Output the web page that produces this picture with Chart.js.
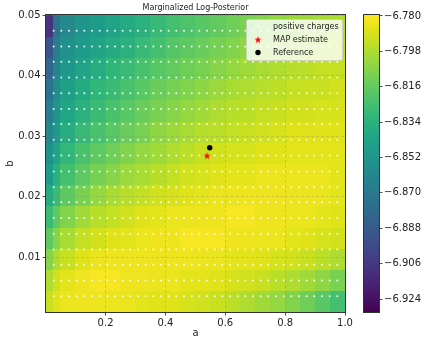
<!DOCTYPE html>
<html>
<head>
<meta charset="utf-8">
<script src="https://cdn.jsdelivr.net/npm/chart.js@4.4.1/dist/chart.umd.min.js"></script>
<style>
  html, body { margin: 0; padding: 0; background: #fff; }
  #wrap { position: relative; width: 423px; height: 344px; }
  #main { position: absolute; left: 0; top: 0; }
  #cbar { position: absolute; left: 346px; top: 0; }
</style>
</head>
<body>
<div id="wrap">
  <canvas id="main" width="423" height="344"></canvas>
  <canvas id="cbar" width="77" height="344"></canvas>
</div>
<script>
// axes
const aRange = [0.001, 1.0];
const bRange = [0.001, 0.05];
const aTicks = [0.2, 0.4, 0.6, 0.8, 1.0];
const bTicks = [0.01, 0.02, 0.03, 0.04, 0.05];

// colour scale of the colorbar
const zRange = [-6.9306, -6.7795];
const zTicks = [-6.924, -6.906, -6.888, -6.870, -6.852, -6.834, -6.816, -6.798, -6.780];

// marginalized log-posterior grid
// cell edges along a and b, rows go from low b to high b
const aEdges = [0.001, 0.025, 0.05, 0.1, 0.15, 0.2, 0.25, 0.3, 0.35, 0.4, 0.45, 0.5,
                0.55, 0.6, 0.65, 0.7, 0.75, 0.8, 0.85, 0.9, 0.95, 1.0];
const bEdges = [0.001, 0.0045, 0.008, 0.0115, 0.015, 0.0185, 0.022, 0.0255,
                0.029, 0.0325, 0.036, 0.0395, 0.043, 0.0465, 0.05];
const logPost = [
  [-6.792,-6.787,-6.784,-6.783,-6.783,-6.784,-6.784,-6.786,-6.787,-6.787,-6.789,-6.790,-6.792,-6.795,-6.798,-6.801,-6.804,-6.808,-6.813,-6.819,-6.825],
  [-6.798,-6.790,-6.786,-6.783,-6.781,-6.781,-6.783,-6.783,-6.784,-6.784,-6.786,-6.786,-6.787,-6.789,-6.790,-6.792,-6.795,-6.798,-6.801,-6.805,-6.810],
  [-6.807,-6.798,-6.792,-6.787,-6.784,-6.783,-6.783,-6.783,-6.783,-6.783,-6.783,-6.784,-6.784,-6.786,-6.786,-6.787,-6.789,-6.790,-6.792,-6.795,-6.798],
  [-6.817,-6.807,-6.799,-6.793,-6.790,-6.787,-6.786,-6.784,-6.783,-6.783,-6.781,-6.781,-6.781,-6.783,-6.783,-6.784,-6.784,-6.786,-6.787,-6.789,-6.790],
  [-6.828,-6.817,-6.808,-6.801,-6.796,-6.793,-6.790,-6.787,-6.786,-6.784,-6.784,-6.783,-6.783,-6.781,-6.781,-6.783,-6.783,-6.784,-6.784,-6.786,-6.787],
  [-6.838,-6.828,-6.817,-6.810,-6.804,-6.799,-6.796,-6.793,-6.790,-6.789,-6.787,-6.786,-6.784,-6.784,-6.783,-6.783,-6.783,-6.784,-6.784,-6.784,-6.786],
  [-6.848,-6.835,-6.825,-6.817,-6.811,-6.807,-6.802,-6.799,-6.796,-6.793,-6.790,-6.789,-6.787,-6.786,-6.786,-6.784,-6.784,-6.784,-6.784,-6.784,-6.786],
  [-6.855,-6.843,-6.831,-6.823,-6.817,-6.813,-6.808,-6.804,-6.801,-6.798,-6.795,-6.792,-6.790,-6.789,-6.789,-6.787,-6.787,-6.786,-6.786,-6.786,-6.786],
  [-6.861,-6.849,-6.837,-6.829,-6.823,-6.819,-6.814,-6.810,-6.805,-6.802,-6.799,-6.796,-6.795,-6.793,-6.792,-6.790,-6.789,-6.787,-6.787,-6.787,-6.787],
  [-6.867,-6.854,-6.841,-6.834,-6.828,-6.823,-6.819,-6.814,-6.810,-6.807,-6.804,-6.801,-6.798,-6.796,-6.795,-6.793,-6.792,-6.790,-6.790,-6.789,-6.789],
  [-6.873,-6.858,-6.846,-6.838,-6.832,-6.828,-6.823,-6.819,-6.814,-6.811,-6.808,-6.805,-6.802,-6.799,-6.798,-6.796,-6.795,-6.793,-6.792,-6.792,-6.790],
  [-6.881,-6.863,-6.851,-6.843,-6.837,-6.832,-6.828,-6.823,-6.819,-6.816,-6.813,-6.810,-6.807,-6.804,-6.801,-6.799,-6.798,-6.796,-6.795,-6.793,-6.793],
  [-6.891,-6.867,-6.855,-6.848,-6.843,-6.838,-6.834,-6.829,-6.825,-6.820,-6.817,-6.814,-6.811,-6.808,-6.805,-6.802,-6.801,-6.799,-6.798,-6.796,-6.795],
  [-6.908,-6.873,-6.860,-6.852,-6.848,-6.843,-6.838,-6.834,-6.829,-6.825,-6.822,-6.819,-6.816,-6.813,-6.810,-6.807,-6.804,-6.802,-6.801,-6.799,-6.798]
];

// positive charges sit on a regular a x b lattice
const chargeA = [0.0266, 0.0522, 0.0778, 0.1035, 0.1291, 0.1547, 0.1803, 0.2059, 0.2315, 0.2572,
                 0.2828, 0.3084, 0.3340, 0.3596, 0.3852, 0.4108, 0.4365, 0.4621, 0.4877, 0.5133,
                 0.5389, 0.5645, 0.5901, 0.6158, 0.6414, 0.6670, 0.6926, 0.7182, 0.7438, 0.7695,
                 0.7951, 0.8207, 0.8463, 0.8719, 0.8975, 0.9231, 0.9488, 0.9744];
const chargeB = [0.0036, 0.0062, 0.0088, 0.0113, 0.0139, 0.0165, 0.0191, 0.0216, 0.0242,
                 0.0268, 0.0294, 0.0320, 0.0345, 0.0371, 0.0397, 0.0423, 0.0448, 0.0474];

const mapPoint = [{ x: 0.539, y: 0.0268 }];
const refPoint = [{ x: 0.548, y: 0.0281 }];

const FONT = '"DejaVu Sans", "Liberation Sans", sans-serif';

const viridisStops = ['#440154', '#471365', '#482475', '#463480', '#414487', '#3b528b', '#355f8d',
                      '#2f6c8e', '#2a788e', '#25848e', '#21918c', '#1e9c89', '#22a884', '#2fb47c',
                      '#44bf70', '#5ec962', '#7ad151', '#9bd93c', '#bddf26', '#dfe318', '#fde725'];

function hexRgb(h) {
    return [parseInt(h.slice(1, 3), 16), parseInt(h.slice(3, 5), 16), parseInt(h.slice(5, 7), 16)];
}

function viridis(t) {
    t = Math.min(1, Math.max(0, t));
    const n = viridisStops.length - 1;
    const k = Math.min(n - 1, Math.floor(t * n));
    const f = t * n - k;
    const c0 = hexRgb(viridisStops[k]), c1 = hexRgb(viridisStops[k + 1]);
    const c = c0.map((v, i) => Math.round(v + (c1[i] - v) * f));
    return `rgb(${c[0]},${c[1]},${c[2]})`;
}

// filled 5-point star like matplotlib's '*'
function starMarker(size, color) {
    const c = document.createElement('canvas');
    c.width = c.height = size;
    const g = c.getContext('2d');
    const r = size / 2 - 0.3, ri = r * 0.4;
    g.beginPath();
    for (let k = 0; k < 10; k++) {
        const ang = -Math.PI / 2 + k * Math.PI / 5;
        const rr = k % 2 ? ri : r;
        g.lineTo(size / 2 + rr * Math.cos(ang), size / 2 + 0.4 + rr * Math.sin(ang));
    }
    g.closePath();
    g.fillStyle = color;
    g.fill();
    return c;
}

const heatmap = {
    id: 'heatmap',
    beforeDraw(chart) {
        const { ctx, chartArea: area, scales: { x, y } } = chart;
        ctx.save();
        ctx.beginPath();
        ctx.rect(area.left, area.top, area.width, area.height);
        ctx.clip();
        logPost.forEach((row, j) => {
            const yt = Math.floor(y.getPixelForValue(bEdges[j + 1]));
            const yb = Math.ceil(y.getPixelForValue(bEdges[j]));
            row.forEach((z, i) => {
                const xl = Math.floor(x.getPixelForValue(aEdges[i]));
                const xr = Math.ceil(x.getPixelForValue(aEdges[i + 1]));
                ctx.fillStyle = viridis((z - zRange[0]) / (zRange[1] - zRange[0]));
                ctx.fillRect(xl, yt, xr - xl, yb - yt);
            });
        });
        ctx.restore();
    }
};

const legendBox = {
    id: 'legendBox',
    afterDatasetsDraw(chart) {
        const { ctx, chartArea: area } = chart;
        const w = 96, h = 41;
        const x0 = area.right - 3 - w, y0 = area.top + 4;
        ctx.save();
        ctx.fillStyle = 'rgba(255,255,255,0.8)';
        ctx.strokeStyle = 'rgba(204,204,204,0.8)';
        ctx.lineWidth = 1;
        ctx.beginPath();
        ctx.roundRect(x0 + 0.5, y0 + 0.5, w, h, 2);
        ctx.fill();
        ctx.stroke();
        ctx.font = `8px ${FONT}`;
        ctx.textBaseline = 'middle';
        chart.data.datasets.forEach((ds, i) => {
            const cy = y0 + 7.5 + i * 13;
            ctx.fillStyle = ds.backgroundColor;
            Chart.helpers.drawPoint(ctx, { pointStyle: ds.pointStyle, radius: ds.pointRadius, borderWidth: 0, rotation: 0 }, x0 + 12, cy);
            ctx.fillStyle = '#222';
            ctx.fillText(ds.label, x0 + 27, cy);
        });
        ctx.restore();
    }
};

const frame = {
    id: 'frame',
    afterDraw(chart) {
        const { ctx, chartArea: area } = chart;
        ctx.save();
        ctx.strokeStyle = '#333';
        ctx.lineWidth = 1;
        ctx.strokeRect(area.left - 0.5, area.top - 0.5, area.width + 1, area.height + 1);
        ctx.restore();
    }
};

const colorbarFill = {
    id: 'colorbarFill',
    beforeDraw(chart) {
        const { ctx, chartArea: area, scales: { y } } = chart;
        const top = y.getPixelForValue(zRange[1]), bottom = y.getPixelForValue(zRange[0]);
        const grad = ctx.createLinearGradient(0, bottom, 0, top);
        viridisStops.forEach((c, k) => grad.addColorStop(k / (viridisStops.length - 1), c));
        ctx.save();
        ctx.fillStyle = grad;
        ctx.fillRect(area.left, top, area.width, bottom - top);
        ctx.restore();
    },
    afterDraw(chart) {
        const { ctx, chartArea: area } = chart;
        ctx.save();
        ctx.strokeStyle = '#333';
        ctx.lineWidth = 1;
        ctx.strokeRect(area.left - 0.5, area.top - 0.5, area.width + 1, area.height + 1);
        ctx.restore();
    }
};

const tickFont = { family: FONT, size: 10 };

const charges = [];
chargeB.forEach(b => chargeA.forEach(a => charges.push({ x: a, y: b })));

new Chart(document.getElementById('main'), {
    type: 'scatter',
    data: {
        datasets: [
            { label: 'positive charges', data: charges, pointStyle: 'circle', pointRadius: 1,
              backgroundColor: 'rgba(255,255,255,0.9)', borderWidth: 0, order: 3 },
            { label: 'MAP estimate', data: mapPoint, pointStyle: starMarker(8, '#ff0000'), pointRadius: 4,
              backgroundColor: '#ff0000', borderWidth: 0, order: 2 },
            { label: 'Reference', data: refPoint, pointStyle: 'circle', pointRadius: 2.7,
              backgroundColor: '#000000', borderWidth: 0, order: 1 }
        ]
    },
    options: {
        responsive: false,
        animation: false,
        devicePixelRatio: 1,
        events: [],
        layout: { padding: { left: 0, right: 78, top: 0, bottom: 0 } },
        plugins: {
            legend: { display: false },
            tooltip: { enabled: false },
            title: {
                display: true, text: 'Marginalized Log-Posterior', fullSize: false,
                color: '#222', font: { family: FONT, size: 8, weight: 'normal', lineHeight: 1.2 },
                padding: { top: 3.5, bottom: 1.9 }
            }
        },
        scales: {
            x: {
                type: 'linear', min: aRange[0], max: aRange[1],
                afterBuildTicks: s => { s.ticks = aTicks.map(v => ({ value: v })); },
                afterFit: s => { s.height = 32; },
                ticks: { color: '#222', font: tickFont, padding: 2, maxRotation: 0,
                         callback: v => v.toFixed(1) },
                grid: { color: 'rgba(128,128,128,0.35)', lineWidth: 0.8, tickLength: 3.5,
                        tickColor: '#222', tickWidth: 0.8 },
                border: { display: false, dash: [3, 2] },
                title: { display: true, text: 'a', color: '#222', font: tickFont, padding: { top: 4, bottom: 5 } }
            },
            y: {
                type: 'linear', min: bRange[0], max: bRange[1],
                afterBuildTicks: s => { s.ticks = bTicks.map(v => ({ value: v })); },
                afterFit: s => { s.width = 46; },
                ticks: { color: '#222', font: tickFont, padding: 2, callback: v => v.toFixed(2) },
                grid: { color: 'rgba(128,128,128,0.35)', lineWidth: 0.8, tickLength: 3.5,
                        tickColor: '#222', tickWidth: 0.8 },
                border: { display: false, dash: [3, 2] },
                title: { display: true, text: 'b', color: '#222', font: tickFont, padding: { top: 4, bottom: 4 } }
            }
        }
    },
    plugins: [heatmap, legendBox, frame]
});

new Chart(document.getElementById('cbar'), {
    type: 'scatter',
    data: { datasets: [] },
    options: {
        responsive: false,
        animation: false,
        devicePixelRatio: 1,
        events: [],
        layout: { padding: { left: 18, right: 0, top: 15, bottom: 32 } },
        plugins: { legend: { display: false }, tooltip: { enabled: false } },
        scales: {
            x: { display: false, min: 0, max: 1 },
            y: {
                position: 'right', min: zRange[0], max: zRange[1],
                afterBuildTicks: s => { s.ticks = zTicks.map(v => ({ value: v })); },
                afterFit: s => { s.width = 44; },
                ticks: { color: '#222', font: tickFont, padding: 1.5,
                         callback: v => v.toFixed(3).replace('-', '\u2212') },
                grid: { drawOnChartArea: false, tickLength: 3.5, tickColor: '#222', tickWidth: 0.8 },
                border: { display: false }
            }
        }
    },
    plugins: [colorbarFill]
});
</script>
</body>
</html>
